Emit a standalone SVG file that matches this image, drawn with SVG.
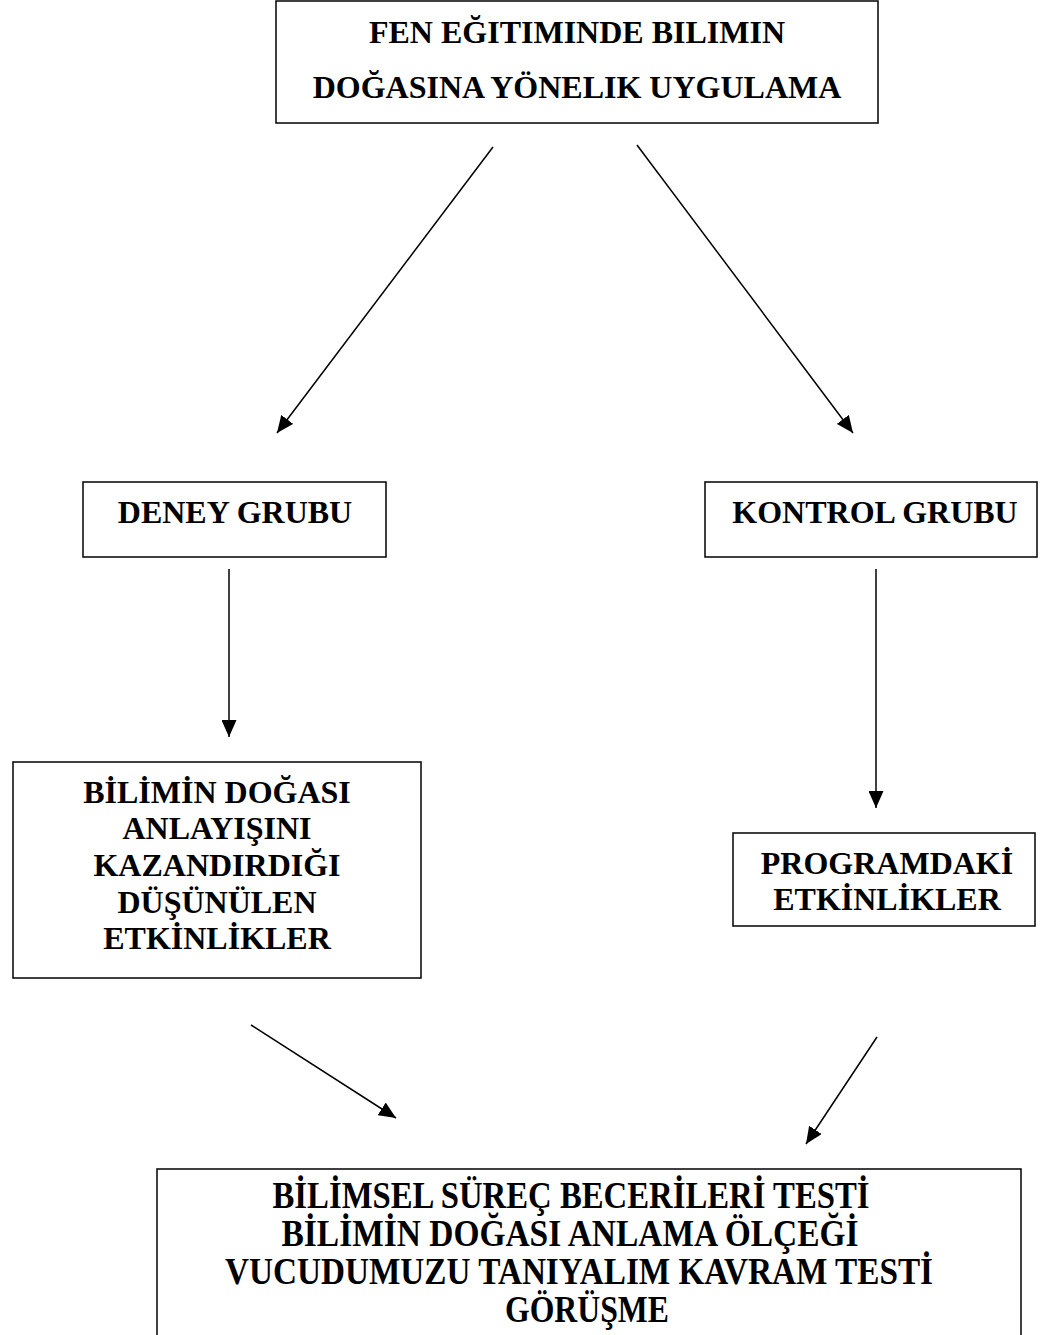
<svg xmlns="http://www.w3.org/2000/svg" width="1049" height="1335" viewBox="0 0 1049 1335">
<style>
.box{fill:#fff;stroke:#000;stroke-width:1.5}
.t{font-family:"Liberation Serif","Times New Roman",serif;font-weight:bold;font-size:32px;fill:#000;text-anchor:middle}
.b{font-size:37px}
.c{stroke:#000;stroke-width:1.5;fill:none;marker-end:url(#ah)}
</style>
<defs>
<marker id="ah" markerUnits="userSpaceOnUse" markerWidth="19" markerHeight="15" refX="17" refY="7.5" orient="auto">
<path d="M0,0 L17,7.5 L0,15 Z" fill="#000"/>
</marker>
</defs>
<rect width="1049" height="1335" fill="#fff"/>
<g id="n-top">
<rect class="box" x="276" y="1" width="602" height="122"/>
<text class="t" x="577" y="43">FEN EĞITIMINDE BILIMIN</text>
<text class="t" x="577" y="98">DOĞASINA YÖNELIK UYGULAMA</text>
</g>
<g id="n-deney">
<rect class="box" x="83" y="482" width="303" height="75"/>
<text class="t" x="235" y="523">DENEY GRUBU</text>
</g>
<g id="n-kontrol">
<rect class="box" x="705" y="482" width="332" height="75"/>
<text class="t" x="875" y="523">KONTROL GRUBU</text>
</g>
<g id="n-bilimin">
<rect class="box" x="13" y="762" width="408" height="216"/>
<text class="t" x="217" y="803">BİLİMİN DOĞASI</text>
<text class="t" x="217" y="839">ANLAYIŞINI</text>
<text class="t" x="217" y="876">KAZANDIRDIĞI</text>
<text class="t" x="217" y="913">DÜŞÜNÜLEN</text>
<text class="t" x="217" y="949">ETKİNLİKLER</text>
</g>
<g id="n-program">
<rect class="box" x="733" y="833" width="302" height="93"/>
<text class="t" x="887" y="874">PROGRAMDAKİ</text>
<text class="t" x="887" y="910">ETKİNLİKLER</text>
</g>
<g id="n-test">
<rect class="box" x="157" y="1169" width="864" height="200"/>
<text class="t b" x="571" y="1208" textLength="597" lengthAdjust="spacingAndGlyphs">BİLİMSEL SÜREÇ BECERİLERİ TESTİ</text>
<text class="t b" x="570" y="1246" textLength="577" lengthAdjust="spacingAndGlyphs">BİLİMİN DOĞASI ANLAMA ÖLÇEĞİ</text>
<text class="t b" x="579" y="1284" textLength="708" lengthAdjust="spacingAndGlyphs">VUCUDUMUZU TANIYALIM KAVRAM TESTİ</text>
<text class="t b" x="587" y="1322" textLength="164" lengthAdjust="spacingAndGlyphs">GÖRÜŞME</text>
</g>
<g id="connectors">
<line class="c" x1="493" y1="147" x2="277" y2="433"/>
<line class="c" x1="637" y1="145" x2="853" y2="433"/>
<line class="c" x1="229" y1="569" x2="229" y2="737"/>
<line class="c" x1="876" y1="569" x2="876" y2="808"/>
<line class="c" x1="251" y1="1025" x2="396" y2="1118"/>
<line class="c" x1="877" y1="1037" x2="806" y2="1144"/>
</g>
</svg>
